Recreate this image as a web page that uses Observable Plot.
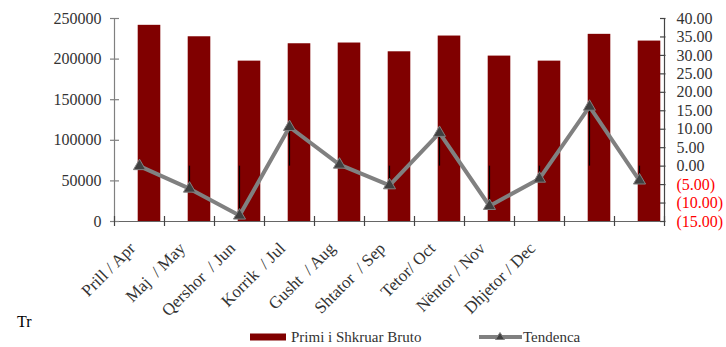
<!DOCTYPE html>
<html>
<head>
<meta charset="utf-8">
<script src="https://cdn.jsdelivr.net/npm/d3@7"></script>
<script src="https://cdn.jsdelivr.net/npm/@observablehq/plot@0.6"></script>
<style>
  html, body { margin: 0; padding: 0; background: #fff; }
  body { width: 726px; height: 347px; position: relative; overflow: hidden; font-family: "Liberation Serif", serif; }
  svg, svg text { font-family: "Liberation Serif", serif !important; }
  #chart svg text { white-space: pre; }
  .legend { position: absolute; left: 0; top: 326px; width: 726px; height: 21px; }
  .tr { position: absolute; left: 17px; top: 313px; font-size: 16px; color: #000; white-space: nowrap; }
</style>
</head>
<body>
<div id="chart"></div>
<div class="tr">Tr</div>
<svg class="legend" width="726" height="21" font-size="15">
  <rect x="250" y="7.5" width="36" height="7" fill="#800000"></rect>
  <text x="291" y="11" dy="0.35em" fill="#333">Primi i Shkruar Bruto</text>
  <line x1="479" x2="522" y1="11" y2="11" stroke="#808080" stroke-width="4"></line>
  <path d="M500,6.5 L504.5,13.5 L495.5,13.5 Z" fill="#404040" stroke="#808080" stroke-width="1"></path>
  <text x="523" y="11" dy="0.35em" fill="#333">Tendenca</text>
</svg>
<script>
// Categories (last two have no label in the original)
const months = ["Prill / Apr", "Maj  / May", "Qershor  / Jun", "Korrik  / Jul", "Gusht  / Aug",
                "Shtator  / Sep", "Tetor/ Oct", "Nëntor / Nov", "Dhjetor / Dec", "", ""];
// Primi i Shkruar Bruto (left axis)
const bruto = [241600, 227500, 197500, 218900, 219800, 209000, 228400, 203700, 197500, 230500, 222200];
// Tendenca (right axis, %)
const tendenca = [0.0, -6.1, -13.4, 10.6, 0.4, -5.2, 9.0, -10.8, -3.4, 16.1, -3.9];
// Axis ticks
const leftTicks = [0, 50000, 100000, 150000, 200000, 250000];
const rightTicks = [-15, -10, -5, 0, 5, 10, 15, 20, 25, 30, 35, 40];

const R_MIN = -15, R_MAX = 40, L_MAX = 250000;
const toLeft = v => (v - R_MIN) / (R_MAX - R_MIN) * L_MAX;
const fmtRight = v => v < 0 ? `(${Math.abs(v).toFixed(2)})` : v.toFixed(2);

const data = months.map((m, i) => ({i, label: m, bruto: bruto[i], t: tendenca[i], ty: toLeft(tendenca[i])}));
const boundaries = d3.range(0, months.length + 1);

const axisColor = "#808080";
const textColor = "#333";

const chart = Plot.plot({
  width: 726,
  height: 322,
  marginLeft: 114,
  marginRight: 62,
  marginTop: 18,
  marginBottom: 101,
  style: {fontFamily: "Liberation Serif, serif", fontSize: "16px", background: "#fff", overflow: "visible"},
  x: {type: "linear", domain: [0, months.length], axis: null},
  y: {domain: [0, L_MAX], axis: null},
  marks: [
    // bars
    Plot.rectY(data, {x1: d => d.i, x2: d => d.i + 1, y: "bruto", fill: "#800000", insetLeft: 23.7, insetRight: 3.7}),
    // drop lines from zero of right axis to the line value
    Plot.ruleX(data, {x: d => d.i + 0.5, y1: toLeft(0), y2: "ty", stroke: "#000", strokeWidth: 1.2}),
    // axis lines
    Plot.ruleX([0], {x: d => d, y1: 0, y2: L_MAX, stroke: axisColor, strokeWidth: 1.2}),
    Plot.ruleX([months.length], {x: d => d, y1: 0, y2: L_MAX, stroke: "#444", strokeWidth: 1.2}),
    Plot.ruleY([0], {y: d => d, x1: 0, x2: months.length, stroke: "#666", strokeWidth: 1.2}),
    // tick marks
    Plot.ruleY(leftTicks, {y: d => d, x1: 0, x2: 0, insetLeft: -4, insetRight: -5, stroke: axisColor, strokeWidth: 1.2}),
    Plot.ruleY(rightTicks, {y: d => toLeft(d), x1: months.length, x2: months.length, insetLeft: -4, insetRight: -1.5, stroke: "#444", strokeWidth: 1.2}),
    Plot.ruleX(boundaries, {x: d => d, y1: 0, y2: 0, insetTop: -5, insetBottom: -5, stroke: "#444", strokeWidth: 1.2}),
    // left axis labels
    Plot.axisY(leftTicks, {anchor: "left", tickSize: 0, tickPadding: 13, tickFormat: d => String(d), fill: textColor, fontSize: 16}),
    // right axis labels
    Plot.text(rightTicks.filter(v => v >= 0), {x: months.length, y: d => toLeft(d), text: fmtRight, textAnchor: "start", dx: 12, fill: textColor, fontSize: 16}),
    Plot.text(rightTicks.filter(v => v < 0), {x: months.length, y: d => toLeft(d), text: fmtRight, textAnchor: "start", dx: 12, fill: "#ff0000", fontSize: 16}),
    // x labels
    Plot.text(data, {x: d => d.i + 0.5, y: 0, text: "label", rotate: -45, textAnchor: "end", dx: -7, dy: 24, fill: textColor, fontSize: 17}),
    // trend line
    Plot.line(data, {x: d => d.i + 0.5, y: "ty", stroke: "#808080", strokeWidth: 4}),
    Plot.dot(data, {x: d => d.i + 0.5, y: "ty", symbol: "triangle", r: 4.5, fill: "#404040", stroke: "#808080", strokeWidth: 1})
  ]
});
document.getElementById("chart").appendChild(chart);
</script>
</body>
</html>
